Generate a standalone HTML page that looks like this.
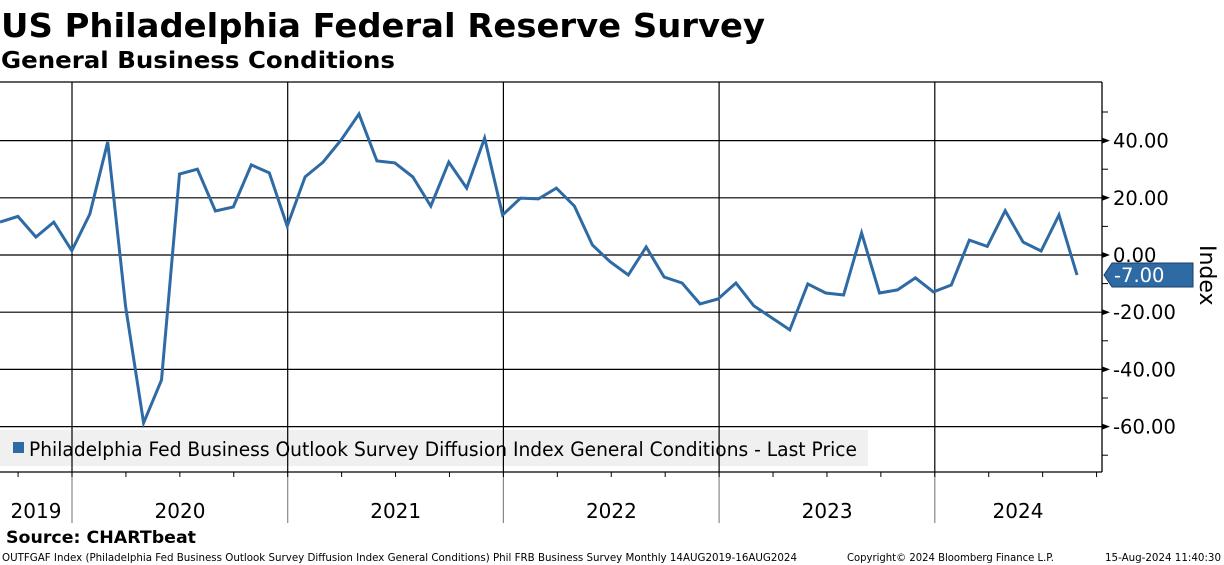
<!DOCTYPE html>
<html><head><meta charset="utf-8"><style>
html,body{margin:0;padding:0;background:#fff;width:1224px;height:565px;overflow:hidden}
svg{display:block;font-family:"DejaVu Sans","Liberation Sans",sans-serif}
</style></head><body>
<svg id="chart" width="1224" height="565" viewBox="0 0 1224 565">
<text x="1" y="37" font-size="33" font-weight="bold" textLength="764" lengthAdjust="spacingAndGlyphs">US Philadelphia Federal Reserve Survey</text>
<text x="1" y="68" font-size="23" font-weight="bold" textLength="394" lengthAdjust="spacingAndGlyphs">General Business Conditions</text>
<g>
<rect x="0" y="430" width="868" height="36" fill="#f0f0f0"/>
<rect x="13" y="442" width="11" height="11" fill="#2e6aa4"/>
<text x="29" y="456" font-size="19.5" textLength="828" lengthAdjust="spacingAndGlyphs">Philadelphia Fed Business Outlook Survey Diffusion Index General Conditions - Last Price</text>
</g>
<g id="grid"></g>
<g id="series"></g>
<g id="axis"></g>
<g id="xaxis"></g>
<text transform="translate(1200,245) rotate(90)" font-size="22">Index</text>
<text x="6" y="543" font-size="16.5" font-weight="bold" textLength="190" lengthAdjust="spacingAndGlyphs">Source: CHARTbeat</text>
<text x="2" y="561" font-size="10.5" textLength="795" lengthAdjust="spacingAndGlyphs">OUTFGAF Index (Philadelphia Fed Business Outlook Survey Diffusion Index General Conditions) Phil FRB Business Survey  Monthly 14AUG2019-16AUG2024</text>
<text x="847" y="561" font-size="10.5" textLength="207" lengthAdjust="spacingAndGlyphs">Copyright© 2024 Bloomberg Finance L.P.</text>
<text x="1105" y="561" font-size="10.5" textLength="116" lengthAdjust="spacingAndGlyphs">15-Aug-2024 11:40:30</text>
</svg>
<script>
const values=[11.5,13.5,6.3,11.5,1.5,14.3,39.5,-18,-58.7,-43.7,28.3,30,15.4,16.8,31.5,28.7,10.1,27.3,32.5,40.2,49.3,32.9,32.2,27.3,17.1,32.5,23.4,40.9,14,19.9,19.6,23.4,17.1,3.5,-2.4,-7,2.8,-7.7,-9.8,-17.1,-15.4,-9.8,-17.8,-22,-26.2,-10.1,-13.3,-14,7.7,-13.3,-12.2,-8,-12.9,-10.5,5.2,3,15.5,4.5,1.4,14,-7];
const yTicks=[40,20,0,-20,-40,-60];
const yTickLabels=["40.00","20.00","0.00","-20.00","-40.00","-60.00"];
const years=["2019","2020","2021","2022","2023","2024"];
const lastLabel="-7.00";
const NS="http://www.w3.org/2000/svg";
const R=1102,T=82,B=472;
const y=v=>255-v*2.86;
const x=i=>i*17.95;
const yearX=yrs=>72+yrs*215.7; // years since Jan 2020
function mk(tag,attrs,parent){const e=document.createElementNS(NS,tag);for(const k in attrs)e.setAttribute(k,attrs[k]);parent.appendChild(e);return e;}
const grid=document.getElementById('grid'),ax=document.getElementById('axis'),xa=document.getElementById('xaxis'),ser=document.getElementById('series');
mk('line',{x1:0,x2:R,y1:T,y2:T,stroke:'#000','stroke-width':1.3},grid);
yTicks.forEach((v,i)=>{
  const gl=mk('line',{x1:0,x2:R,y1:y(v),y2:y(v),stroke:'#000','stroke-width':1.2},grid);
  
  
  mk('path',{d:`M${R} ${y(v)-3}L${R+8} ${y(v)}L${R} ${y(v)+3}Z`,fill:'#000'},ax);
  const t=mk('text',{x:R+11,y:y(v)+7,'font-size':19.5},ax);
  
  
  t.textContent=yTickLabels[i];
});
for(let v=50;v>=-70;v-=20){mk('line',{x1:R,x2:R+6,y1:y(v),y2:y(v),stroke:'#000','stroke-width':1},ax);}
mk('line',{x1:R,x2:R,y1:T,y2:B,stroke:'#000','stroke-width':1.3},ax);
for(let k=0;k<5;k++){
  const gx=yearX(k);
  const vl=mk('line',{x1:gx,x2:gx,y1:T,y2:B,stroke:'#000','stroke-width':1.2},grid);
  
  
  mk('line',{x1:gx,x2:gx,y1:B,y2:523,stroke:'#888','stroke-width':1.2},xa);
}
mk('line',{x1:0,x2:R,y1:B,y2:B,stroke:'#000','stroke-width':1.3},xa);
for(let q=-1;q<21;q++){const qx=yearX(q/4);if(qx>0&&qx<R)mk('line',{x1:qx,x2:qx,y1:B,y2:B+5,stroke:'#000','stroke-width':1},xa);}
years.forEach((yr,i)=>{
  const cx=i===0?36:(i===years.length-1?1018:yearX(i-1)+108);
  const t=mk('text',{x:cx,y:518,'font-size':20,'text-anchor':'middle'},xa);
  
  
  t.textContent=yr;
});
const pts=values.map((v,i)=>x(i).toFixed(1)+','+y(v).toFixed(1)).join(' ');
const line=mk('polyline',{points:pts,fill:'none',stroke:'#2e6aa4','stroke-width':3,'stroke-linejoin':'miter'},ser);


const ly=y(values[values.length-1]);
const tag=mk('path',{d:`M1104 ${ly}L1112 ${ly-12}H1193V${ly+12}H1112Z`,fill:'#2e6aa4',stroke:'#1a3e66','stroke-width':1},ax);


const lt=mk('text',{x:1114,y:ly+7,'font-size':19.5,fill:'#fff'},ax);


lt.textContent=lastLabel;
</script>
</body></html>
